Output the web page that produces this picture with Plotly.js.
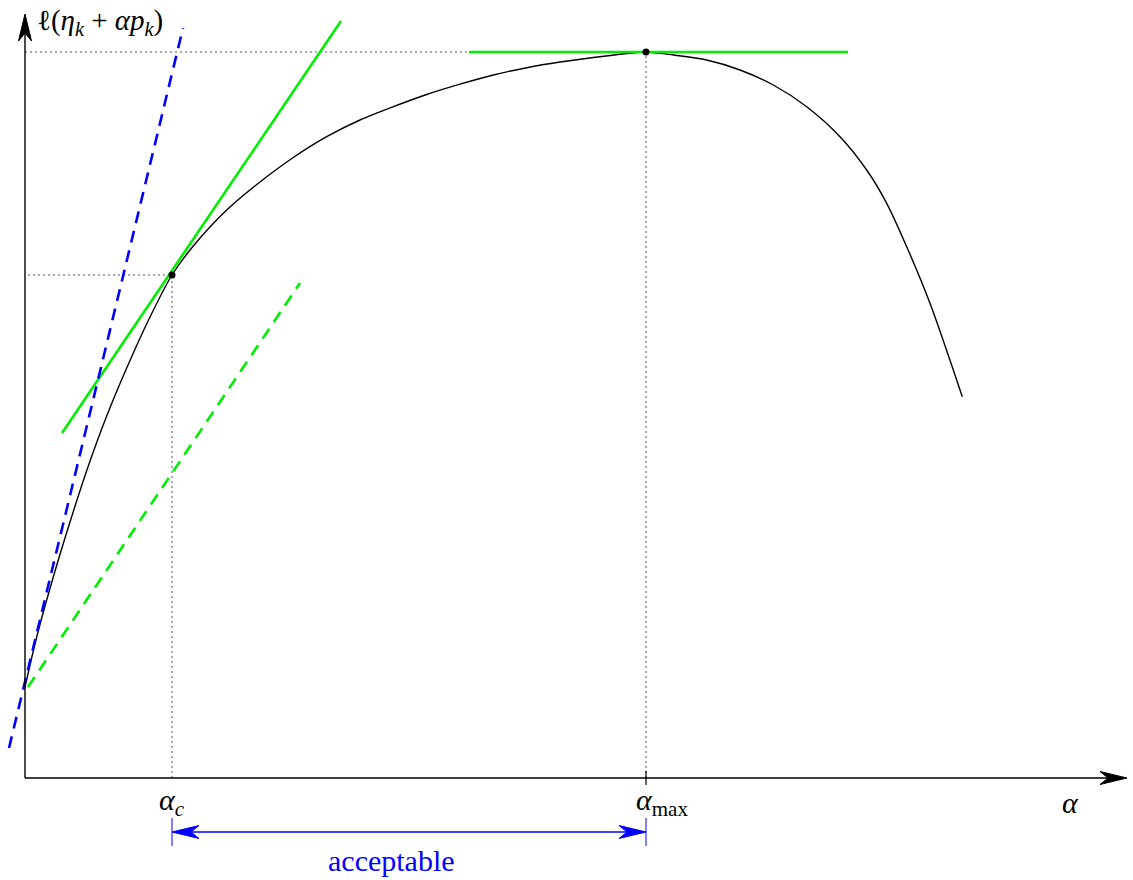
<!DOCTYPE html>
<html><head><meta charset="utf-8">
<script src="https://cdn.plot.ly/plotly-3.0.1.min.js"></script>
<style>body{margin:0;background:#fff}#chart{width:1133px;height:880px}</style>
</head><body><div id="chart"></div>
<script>
// axes origin at (0,0); units chosen so that 1 unit = 1 screen pixel
const curveAlpha = [0, 11.7, 28.3, 45, 63.3, 81.7, 101.7, 125, 147, 168.3, 201.7, 235, 268.3, 301.7, 335, 368.3, 401.7, 435, 468.3, 501.7, 535, 568.3, 600, 621, 648.3, 681.7, 715, 748.3, 781.7, 815, 841.7, 861.7, 881.7, 905, 937.3];
const curveL     = [91, 141, 201, 256, 312, 362, 410, 461, 503, 532, 568, 596, 620.5, 641.3, 658, 671.3, 683.5, 693.8, 703, 710.3, 716, 720.5, 724.3, 726, 723, 718, 708, 693, 671.3, 641.3, 608, 574.7, 531.3, 474.7, 381.3];
const alphaC = 147, lAlphaC = 503;
const alphaMax = 621, lAlphaMax = 726;
const tangentAlpha = [37, 316], tangentL = [345, 757];
const armijoAlpha = [3, 275], armijoL = [91, 495];
const steepAlpha = [-16, 158], steepL = [30, 750];
const flatAlpha = [444, 823], flatL = [726, 726];
const xAxisEnd = 1102, yAxisEnd = 764;
const yLabel = 'ℓ(<i>η<sub>k</sub></i> + <i>αp<sub>k</sub></i>)';
const bracketText = 'acceptable';

const GREEN = '#00ee00', BLUE = '#0000ff', DOT = '#555555';
const serif = 'Liberation Serif, DejaVu Serif, serif';

function stealth(tx, ty, dx, dy, color) {
  const L = 27, W = 6.5, N = 19;
  const px = -dy, py = dx;
  const bx = tx - dx * L, by = ty - dy * L;
  const nx = tx - dx * N, ny = ty - dy * N;
  const p = `M${tx},${ty} L${bx + px * W},${by + py * W} L${nx},${ny} L${bx - px * W},${by - py * W} Z`;
  return {type: 'path', xref: 'x', yref: 'y', path: p, fillcolor: color, line: {color: color, width: 1}};
}

const traces = [
  {x: [alphaC, alphaC, 0], y: [0, lAlphaC, lAlphaC], mode: 'lines', line: {color: DOT, width: 1, dash: '2px,3px'}},
  {x: [alphaMax, alphaMax, 0], y: [0, lAlphaMax, lAlphaMax], mode: 'lines', line: {color: DOT, width: 1, dash: '2px,3px'}},
  {x: curveAlpha, y: curveL, mode: 'lines', line: {color: '#000', width: 1.4, shape: 'spline', smoothing: 0.8}},
  {x: tangentAlpha, y: tangentL, mode: 'lines', line: {color: GREEN, width: 2.6}},
  {x: flatAlpha, y: flatL, mode: 'lines', line: {color: GREEN, width: 2.6}},
  {x: armijoAlpha, y: armijoL, mode: 'lines', line: {color: GREEN, width: 2.6, dash: '12px,8px'}},
  {x: steepAlpha, y: steepL, mode: 'lines', line: {color: BLUE, width: 2.6, dash: '12px,8px'}},
  {x: [alphaC, alphaMax], y: [lAlphaC, lAlphaMax], mode: 'markers', marker: {color: '#000', size: 7}}
];

const bracketY = -54;
const shapes = [
  {type: 'line', xref: 'x', yref: 'y', x0: 0, y0: 0, x1: xAxisEnd - 20, y1: 0, line: {color: '#000', width: 1.4}},
  {type: 'line', xref: 'x', yref: 'y', x0: 0, y0: 0, x1: 0, y1: yAxisEnd - 20, line: {color: '#000', width: 1.4}},
  stealth(xAxisEnd, 0, 1, 0, '#000'),
  stealth(0, yAxisEnd, 0, 1, '#000'),
  {type: 'line', xref: 'x', yref: 'y', x0: alphaMax, y0: -7, x1: alphaMax, y1: 7, line: {color: '#000', width: 1.2}},
  {type: 'line', xref: 'x', yref: 'y', x0: alphaC, y0: bracketY - 14, x1: alphaC, y1: bracketY + 14, line: {color: BLUE, width: 1}},
  {type: 'line', xref: 'x', yref: 'y', x0: alphaMax, y0: bracketY - 14, x1: alphaMax, y1: bracketY + 14, line: {color: BLUE, width: 1}},
  {type: 'line', xref: 'x', yref: 'y', x0: alphaC + 20, y0: bracketY, x1: alphaMax - 20, y1: bracketY, line: {color: BLUE, width: 1.4}},
  stealth(alphaC, bracketY, -1, 0, BLUE),
  stealth(alphaMax, bracketY, 1, 0, BLUE)
];

const ann = (x, y, text, opts) => Object.assign({x: x, y: y, xref: 'x', yref: 'y', text: text, showarrow: false,
  font: {family: serif, size: 30, color: '#000'}}, opts || {});

const annotations = [
  ann(alphaC, -24, '<i>α<sub>c</sub></i>', {}),
  ann(alphaMax + 16, -24, '<i>α</i><sub>max</sub>', {}),
  ann(1045, -24, '<i>α</i>', {}),
  ann(10, 776, yLabel, {xanchor: 'left', yanchor: 'top', font: {family: serif, size: 29, color: '#000'}}),
  ann((alphaC + alphaMax) / 2 - 18, -82, bracketText, {font: {family: serif, size: 30, color: BLUE}})
];

const layout = {
  width: 1133, height: 880,
  margin: {l: 0, r: 0, t: 0, b: 0},
  paper_bgcolor: '#fff', plot_bgcolor: '#fff',
  showlegend: false,
  xaxis: {range: [-25, 1108], visible: false, fixedrange: true},
  yaxis: {range: [-102, 778], visible: false, fixedrange: true},
  shapes: shapes,
  annotations: annotations
};

Plotly.newPlot('chart', traces, layout, {staticPlot: true, displayModeBar: false});
</script>
</body></html>
